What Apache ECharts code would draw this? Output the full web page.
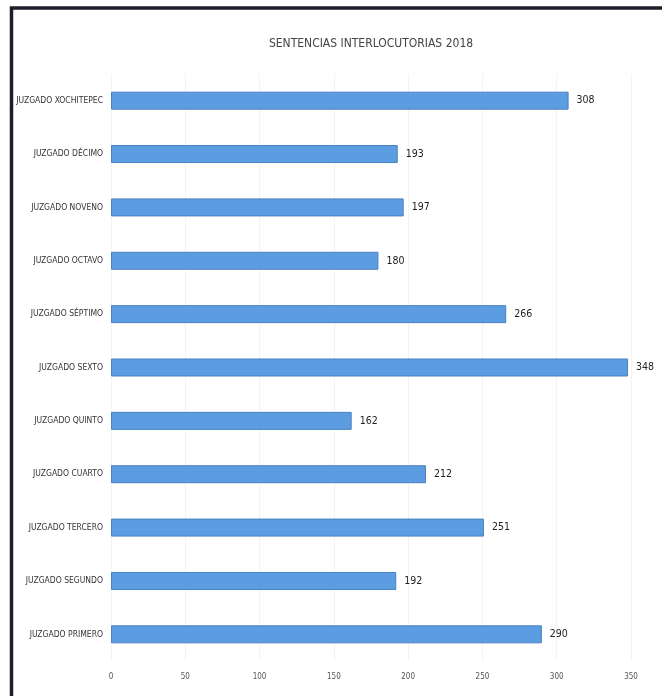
<!DOCTYPE html>
<html>
<head>
<meta charset="utf-8">
<script src="https://cdn.jsdelivr.net/npm/echarts@6/dist/echarts.min.js"></script>
<style>
html,body{margin:0;padding:0;background:#fff;}
#chart{width:662px;height:696px;}
</style>
</head>
<body>
<div id="chart"></div>
<script>
// Data (bottom to top as drawn by category axis)
const categories = [
  'JUZGADO PRIMERO','JUZGADO SEGUNDO','JUZGADO TERCERO','JUZGADO CUARTO',
  'JUZGADO QUINTO','JUZGADO SEXTO','JUZGADO SÉPTIMO','JUZGADO OCTAVO',
  'JUZGADO NOVENO','JUZGADO DÉCIMO','JUZGADO XOCHITEPEC'
];
const values = [290,192,251,212,162,348,266,180,197,193,308];
const xTicks = [0,50,100,150,200,250,300,350];
const titleText = 'SENTENCIAS INTERLOCUTORIAS 2018';

const narrow = '"DejaVu Sans Condensed","Liberation Sans Narrow","Liberation Sans",sans-serif';
const chart = echarts.init(document.getElementById('chart'), null, {renderer:'canvas'});
chart.setOption({
  backgroundColor:'#ffffff',
  animation:false,
  title:{
    text:titleText, left:366, top:33, textAlign:'center',
    textStyle:{fontFamily:narrow, fontSize:12, fontWeight:'normal', color:'#444'}
  },
  grid:{left:111, right:31, top:74, bottom:35, containLabel:false, outerBoundsMode:'none'},
  xAxis:{
    type:'value', min:xTicks[0], max:xTicks[xTicks.length-1], interval:50,
    axisLine:{show:false}, axisTick:{show:false},
    splitLine:{show:true, lineStyle:{color:'#f3f3f3', width:1}},
    axisLabel:{fontFamily:narrow, fontSize:8, color:'#555', margin:12}
  },
  yAxis:{
    type:'category', data:categories,
    axisLine:{show:false}, axisTick:{show:false},
    axisLabel:{fontFamily:narrow, fontSize:8.5, color:'#333', margin:8}
  },
  series:[{
    type:'bar', data:values, barWidth:18,
    itemStyle:{color:'#5b9de0', borderColor:'#4a80c2', borderWidth:1},
    label:{show:true, position:'right', distance:8, fontFamily:narrow, fontSize:10.5, fontWeight:'normal', color:'#222'}
  }],
  graphic:[{
    type:'polyline', silent:true,
    shape:{points:[[11.5,696],[11.5,8],[662,8]]},
    style:{stroke:'#1c1f2a', lineWidth:3.5, fill:null}
  }]
});
</script>
</body>
</html>
